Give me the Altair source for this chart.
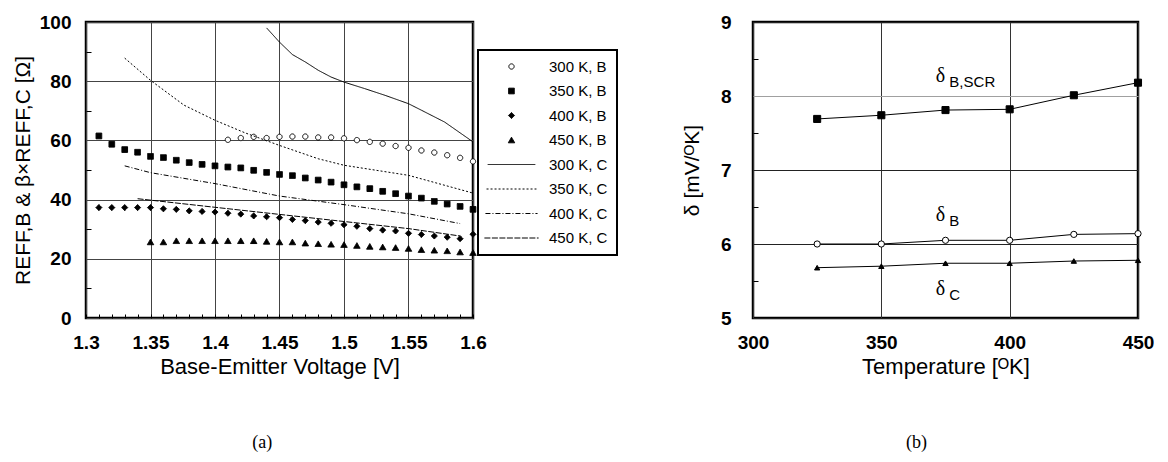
import altair as alt
import pandas as pd

# ---------------- Panel (a) data ----------------
SERIES = ["300 K, B", "350 K, B", "400 K, B", "450 K, B",
          "300 K, C", "350 K, C", "400 K, C", "450 K, C"]

V_B300 = [1.41, 1.42, 1.43, 1.44, 1.45, 1.46, 1.47, 1.48, 1.49, 1.50,
          1.51, 1.52, 1.53, 1.54, 1.55, 1.56, 1.57, 1.58, 1.59, 1.60]
R_B300 = [60.2, 60.8, 61.2, 60.8, 61.2, 61.3, 61.3, 61.0, 61.0, 60.7,
          60.1, 59.5, 58.9, 58.1, 57.5, 56.6, 55.9, 55.0, 54.1, 52.9]

V_B350 = [1.31, 1.32, 1.33, 1.34, 1.35, 1.36, 1.37, 1.38, 1.39, 1.40,
          1.41, 1.42, 1.43, 1.44, 1.45, 1.46, 1.47, 1.48, 1.49, 1.50,
          1.51, 1.52, 1.53, 1.54, 1.55, 1.56, 1.57, 1.58, 1.59, 1.60]
R_B350 = [61.5, 58.7, 56.9, 56.0, 54.6, 54.2, 53.3, 52.5, 51.9, 51.4,
          51.0, 50.7, 49.9, 49.2, 48.5, 48.1, 47.3, 46.6, 45.9, 45.0,
          44.3, 43.7, 42.8, 42.0, 41.2, 40.5, 39.4, 38.5, 37.7, 36.7]

V_B400 = [1.31, 1.32, 1.33, 1.34, 1.35, 1.36, 1.37, 1.38, 1.39, 1.40,
          1.41, 1.42, 1.43, 1.44, 1.45, 1.46, 1.47, 1.48, 1.49, 1.50,
          1.51, 1.52, 1.53, 1.54, 1.55, 1.56, 1.57, 1.58, 1.59, 1.60]
R_B400 = [37.3, 37.3, 37.3, 37.3, 37.3, 36.9, 36.7, 36.2, 36.0, 35.8,
          35.4, 35.1, 34.5, 34.2, 33.9, 33.3, 32.9, 32.4, 32.0, 31.5,
          31.0, 30.2, 29.7, 29.4, 28.6, 28.2, 27.7, 27.3, 26.8, 28.3]

V_B450 = [1.35, 1.36, 1.37, 1.38, 1.39, 1.40, 1.41, 1.42, 1.43, 1.44,
          1.45, 1.46, 1.47, 1.48, 1.49, 1.50, 1.51, 1.52, 1.53, 1.54,
          1.55, 1.56, 1.57, 1.58, 1.59, 1.60]
R_B450 = [25.7, 25.7, 26.1, 26.1, 26.1, 26.1, 26.1, 26.1, 26.1, 25.9,
          25.7, 25.7, 25.3, 25.1, 24.9, 24.8, 24.5, 24.2, 24.0, 23.8,
          23.5, 23.1, 22.9, 22.7, 22.3, 22.1]

V_C300 = [1.44, 1.45, 1.46, 1.47, 1.48, 1.49, 1.50, 1.516, 1.532, 1.55, 1.56, 1.578, 1.60]
R_C300 = [98.0, 93.2, 89.0, 86.5, 83.7, 81.4, 79.7, 77.5, 75.2, 72.4, 70.2, 66.2, 59.5]

V_C350 = [1.33, 1.35, 1.376, 1.40, 1.423, 1.45, 1.48, 1.50, 1.55, 1.60]
R_C350 = [87.8, 80.3, 71.9, 66.8, 62.6, 58.3, 53.8, 51.6, 48.2, 42.2]

V_C400 = [1.33, 1.35, 1.40, 1.45, 1.50, 1.55, 1.59]
R_C400 = [51.4, 49.1, 45.4, 41.2, 38.3, 35.2, 31.9]

V_C450 = [1.34, 1.40, 1.45, 1.50, 1.55, 1.59]
R_C450 = [40.3, 37.4, 35.0, 32.6, 30.2, 27.7]

X_TICKS_A = [1.3, 1.35, 1.4, 1.45, 1.5, 1.55, 1.6]
Y_TICKS_A = [0, 20, 40, 60, 80, 100]
X_MINOR_A = [round(1.30 + 0.01 * i, 2) for i in range(31)]
Y_MINOR_A = [10, 30, 50, 70, 90]

# ---------------- Panel (b) data ----------------
T = [325, 350, 375, 400, 425, 450]
D_BSCR = [7.69, 7.74, 7.81, 7.82, 8.01, 8.18]
D_B = [6.00, 6.00, 6.05, 6.05, 6.13, 6.14]
D_C = [5.68, 5.70, 5.74, 5.74, 5.77, 5.78]
SERIES_B = ["δB,SCR", "δB", "δC"]

ANN_T = [373, 373, 373]
ANN_V = [8.27, 6.39, 5.39]
ANN_SUB = ["B,SCR", "B", "C"]

X_TICKS_B = [300, 350, 400, 450]
Y_TICKS_B = [5, 6, 7, 8, 9]
Y_MINOR_B = [5.5, 6.5, 7.5, 8.5]

# ---------------- build tables ----------------
def frame(vs, rs, name):
    return pd.DataFrame({"V": vs, "R": rs, "series": name})

dfB = pd.concat([frame(V_B300, R_B300, SERIES[0]), frame(V_B350, R_B350, SERIES[1]),
                 frame(V_B400, R_B400, SERIES[2]), frame(V_B450, R_B450, SERIES[3])])
dfC = pd.concat([frame(V_C300, R_C300, SERIES[4]), frame(V_C350, R_C350, SERIES[5]),
                 frame(V_C400, R_C400, SERIES[6]), frame(V_C450, R_C450, SERIES[7])])

dfD = pd.concat([pd.DataFrame({"T": T, "d": D_BSCR, "s": SERIES_B[0]}),
                 pd.DataFrame({"T": T, "d": D_B, "s": SERIES_B[1]}),
                 pd.DataFrame({"T": T, "d": D_C, "s": SERIES_B[2]})])
dfAnn = pd.DataFrame({"T": ANN_T, "d": ANN_V, "sub": ANN_SUB, "delta": ["δ"] * 3})

FONT = "Liberation Sans"
W_A, W_B, H = 387, 385, 296

LINE_SYM = "M-7,0H7"
shape_sc = alt.Scale(domain=SERIES, range=["circle", "square", "diamond", "triangle-up",
                                           LINE_SYM, LINE_SYM, LINE_SYM, LINE_SYM])
fill_sc = alt.Scale(domain=SERIES, range=["white", "black", "black", "black",
                                          "transparent", "transparent", "transparent", "transparent"])
stroke_sc = alt.Scale(domain=SERIES, range=["black"] * 8)
dash_sc = alt.Scale(domain=SERIES, range=[[1, 0], [1, 0], [1, 0], [1, 0],
                                          [1, 0], [2, 2], [5, 2, 1, 2], [6, 1.5]])
size_sc = alt.Scale(domain=SERIES, range=[28, 60, 45, 45, 50, 50, 50, 50])
sw_sc = alt.Scale(domain=SERIES, range=[1, 1, 1, 1, 1.6, 1.1, 1.1, 1.1])

leg = alt.Legend(orient="none", legendX=392, legendY=28, title=None,
                 strokeColor="black", fillColor="white",
                 padding=9, labelFont=FONT, labelFontSize=15, labelColor="black",
                 rowPadding=8.5, symbolOffset=17, labelOffset=30,
                 symbolStrokeColor="black")

xs_a = alt.Scale(domain=[1.3, 1.6], nice=False, zero=False)
ys_a = alt.Scale(domain=[0, 100], nice=False)

ax_main_x = alt.Axis(values=X_TICKS_A, format="~g", grid=True, gridColor="#444",
                     ticks=False, domain=False, labelFontSize=19, labelFontWeight="bold",
                     labelFlush=False, labelPadding=15, titlePadding=4, titleFontSize=22,
                     titleFontWeight="normal")
ax_main_y = alt.Axis(values=Y_TICKS_A, grid=True, gridColor="#444", ticks=False,
                     domain=False, labelFontSize=19, labelFontWeight="bold", labelFlush=False,
                     labelPadding=15, titlePadding=6, titleFontSize=21,
                     titleFontWeight="normal")

points_a = alt.Chart(dfB).mark_point(opacity=1).encode(
    x=alt.X("V:Q", scale=xs_a, axis=ax_main_x, title="Base-Emitter Voltage [V]"),
    y=alt.Y("R:Q", scale=ys_a, axis=ax_main_y, title="REFF,B & β×REFF,C [Ω]"),
    shape=alt.Shape("series:N", scale=shape_sc, legend=leg),
    fill=alt.Fill("series:N", scale=fill_sc, legend=leg),
    stroke=alt.Stroke("series:N", scale=stroke_sc, legend=leg),
    size=alt.Size("series:N", scale=size_sc, legend=leg),
    strokeDash=alt.StrokeDash("series:N", scale=dash_sc, legend=leg),
    strokeWidth=alt.StrokeWidth("series:N", scale=sw_sc, legend=leg),
)

lines_a = alt.Chart(dfC).mark_line().encode(
    x=alt.X("V:Q", scale=xs_a, axis=None),
    y=alt.Y("R:Q", scale=ys_a, axis=None),
    stroke=alt.Stroke("series:N", scale=stroke_sc, legend=leg),
    strokeDash=alt.StrokeDash("series:N", scale=dash_sc, legend=leg),
    strokeWidth=alt.StrokeWidth("series:N", scale=sw_sc, legend=leg),
)

minor_a = alt.Chart(dfB).mark_point(opacity=0).encode(
    x=alt.X("V:Q", scale=xs_a, axis=alt.Axis(values=X_MINOR_A, labels=False, grid=False,
                                               domain=False, ticks=True, tickSize=4, offset=-4,
                                               orient="bottom", tickColor="black"), title=None),
    y=alt.Y("R:Q", scale=ys_a, axis=alt.Axis(values=Y_MINOR_A, labels=False, grid=False,
                                               domain=False, ticks=True, tickSize=5, offset=-5,
                                               orient="left", tickColor="black"), title=None),
)

left = alt.layer(points_a, lines_a, minor_a).resolve_axis(
    x="independent", y="independent"
).properties(
    width=W_A, height=H,
    title=alt.TitleParams("(a)", orient="bottom", font="Liberation Serif", fontSize=18,
                          fontWeight="normal", offset=57, anchor="start", dx=240),
)

# ---------------- Panel (b) ----------------
xs_b = alt.Scale(domain=[300, 450], nice=False, zero=False)
ys_b = alt.Scale(domain=[5, 9], nice=False, zero=False)

ax_b_x = alt.Axis(values=X_TICKS_B, grid=True, gridColor="#333", ticks=False, domain=False,
                  labelFontSize=19, labelFontWeight="bold", labelPadding=15, labelFlush=False,
                  titlePadding=4, titleFontSize=22, titleFontWeight="normal")
ax_b_y = alt.Axis(values=Y_TICKS_B, grid=True,
                  gridColor={"condition": {"test": "datum.value == 8", "value": "#a0a0a0"},
                             "value": "#222"},
                  ticks=False, domain=False, labelFontSize=19, labelFontWeight="bold",
                  labelFlush=False,
                  labelPadding=22, titlePadding=18, titleFontSize=21, titleFontWeight="normal")

shape_b = alt.Scale(domain=SERIES_B, range=["square", "circle", "triangle-up"])
fill_b = alt.Scale(domain=SERIES_B, range=["black", "white", "black"])
size_b = alt.Scale(domain=SERIES_B, range=[50, 28, 40])

lines_b = alt.Chart(dfD).mark_line(color="black", strokeWidth=1).encode(
    x=alt.X("T:Q", scale=xs_b, axis=ax_b_x, title="Temperature [ᴼK]"),
    y=alt.Y("d:Q", scale=ys_b, axis=ax_b_y, title="δ [mV/ᴼK]"),
    detail="s:N",
)
points_b = alt.Chart(dfD).mark_point(stroke="black", strokeWidth=1, opacity=1).encode(
    x=alt.X("T:Q", scale=xs_b, axis=None),
    y=alt.Y("d:Q", scale=ys_b, axis=None),
    shape=alt.Shape("s:N", scale=shape_b, legend=None),
    fill=alt.Fill("s:N", scale=fill_b, legend=None),
    size=alt.Size("s:N", scale=size_b, legend=None),
)
minor_b = alt.Chart(dfD).mark_point(opacity=0).encode(
    x=alt.X("T:Q", scale=xs_b, axis=None),
    y=alt.Y("d:Q", scale=ys_b, axis=alt.Axis(values=Y_MINOR_B, labels=False, grid=False,
                                              domain=False, ticks=True, tickSize=5, offset=-5,
                                              orient="left", tickColor="black"), title=None),
)
delta_txt = alt.Chart(dfAnn).mark_text(font="Liberation Serif", fontSize=20, color="black",
                                       align="center", baseline="middle").encode(
    x=alt.X("T:Q", scale=xs_b, axis=None),
    y=alt.Y("d:Q", scale=ys_b, axis=None),
    text="delta:N",
)
sub_txt = alt.Chart(dfAnn).mark_text(font=FONT, fontSize=15, color="black",
                                     align="left", baseline="middle", dx=9, dy=6).encode(
    x=alt.X("T:Q", scale=xs_b, axis=None),
    y=alt.Y("d:Q", scale=ys_b, axis=None),
    text="sub:N",
)

right = alt.layer(lines_b, points_b, minor_b, delta_txt, sub_txt).resolve_axis(
    x="independent", y="independent"
).properties(
    width=W_B, height=H,
    title=alt.TitleParams("(b)", orient="bottom", font="Liberation Serif", fontSize=18,
                          fontWeight="normal", offset=57, dx=-29),
)

chart = alt.hconcat(left, right, spacing=60).resolve_scale(
    shape="independent", fill="independent", size="independent",
    strokeDash="independent", strokeWidth="independent", stroke="independent"
).properties(
    padding={"left": 3, "top": 3, "right": 0, "bottom": 0}
).configure_view(
    stroke="black", strokeWidth=2.5
).configure_axis(
    labelFont=FONT, titleFont=FONT, labelColor="black", titleColor="black"
).configure_legend(
    strokeWidth=2
).configure_title(
    color="black"
)

chart.save("out.html", embed_options={"renderer": "svg", "actions": False})
